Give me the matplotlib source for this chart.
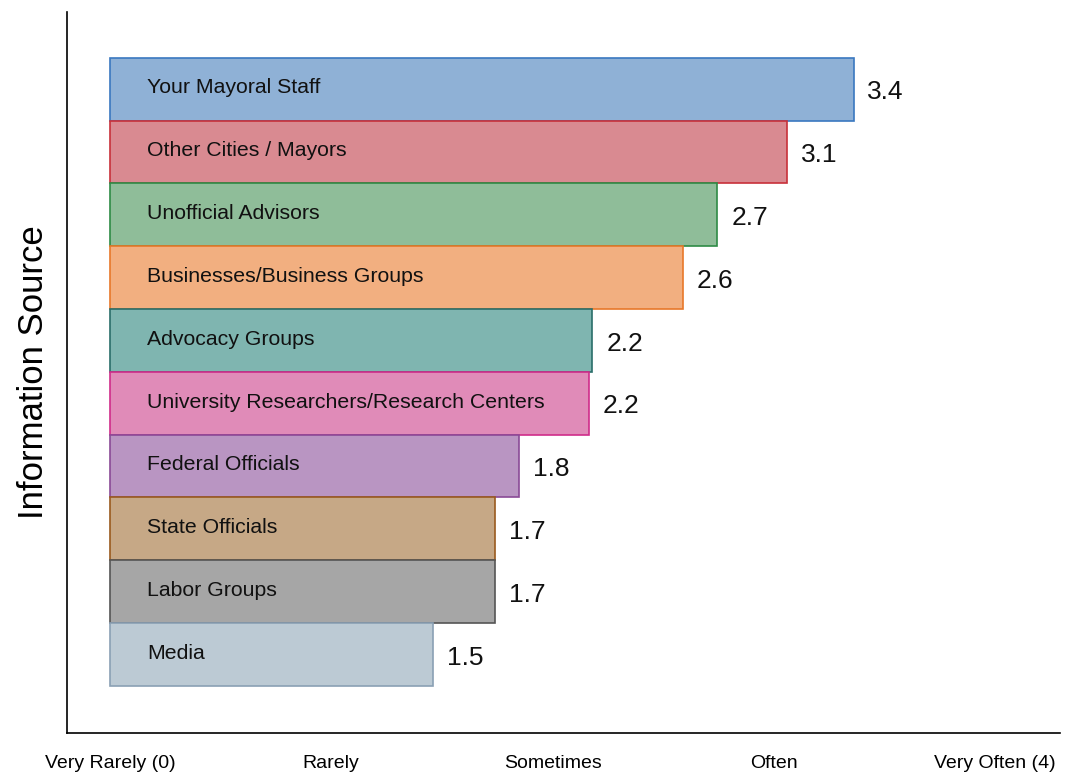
import matplotlib
matplotlib.use("Agg")
import matplotlib.pyplot as plt

plt.rcParams['font.family'] = ['Liberation Sans', 'DejaVu Sans']

sources = ["Your Mayoral Staff", "Other Cities / Mayors", "Unofficial Advisors",
           "Businesses/Business Groups", "Advocacy Groups",
           "University Researchers/Research Centers", "Federal Officials",
           "State Officials", "Labor Groups", "Media"]
values = [3.36, 3.06, 2.745, 2.59, 2.18, 2.165, 1.849, 1.74, 1.74, 1.46]
fill_colors = ["#8fb1d6", "#d98a91", "#8fbd99", "#f2af80", "#7fb5b0",
               "#e08bb8", "#b995c2", "#c6a886", "#a6a6a6", "#bccad4"]
edge_colors = ["#3a78c0", "#c8303a", "#2e8b46", "#e8782a", "#2a6e6a",
               "#d02c8a", "#8a4a96", "#9a5a1e", "#555555", "#8aa0b4"]
tick_positions = [0, 1, 2, 3, 4]
tick_labels = ["Very Rarely (0)", "Rarely", "Sometimes", "Often", "Very Often (4)"]

fig = plt.figure(figsize=(10.67, 7.77), dpi=100)
ax = fig.add_axes([67/1067, 44/777, (1060-67)/1067, (733-12)/777])

ypos = list(range(len(sources)))
ax.barh(ypos, values, height=1.0, color=fill_colors, edgecolor=edge_colors, linewidth=1.2)

for y, name, v in zip(ypos, sources, values):
    ax.text(0.167, y - 0.02, name, va='center', ha='left', fontsize=15.3, color='#111111')
    ax.text(v + 0.063, y + 0.05, f"{v:.1f}", va='center', ha='left', fontsize=19, color='#111111')

ax.set_xlim(-0.194, 4.293)
ax.set_ylim(10.25, -1.23)
ax.set_xticks(tick_positions)
ax.set_xticklabels(tick_labels, fontsize=14)
ax.tick_params(axis='x', length=0, pad=16)
ax.set_yticks([])
ax.set_ylabel("Information Source", fontsize=25, labelpad=12)
for s in ['top', 'right']:
    ax.spines[s].set_visible(False)
for s in ['left', 'bottom']:
    ax.spines[s].set_linewidth(1.2)

fig.savefig("out.png", dpi=100)
